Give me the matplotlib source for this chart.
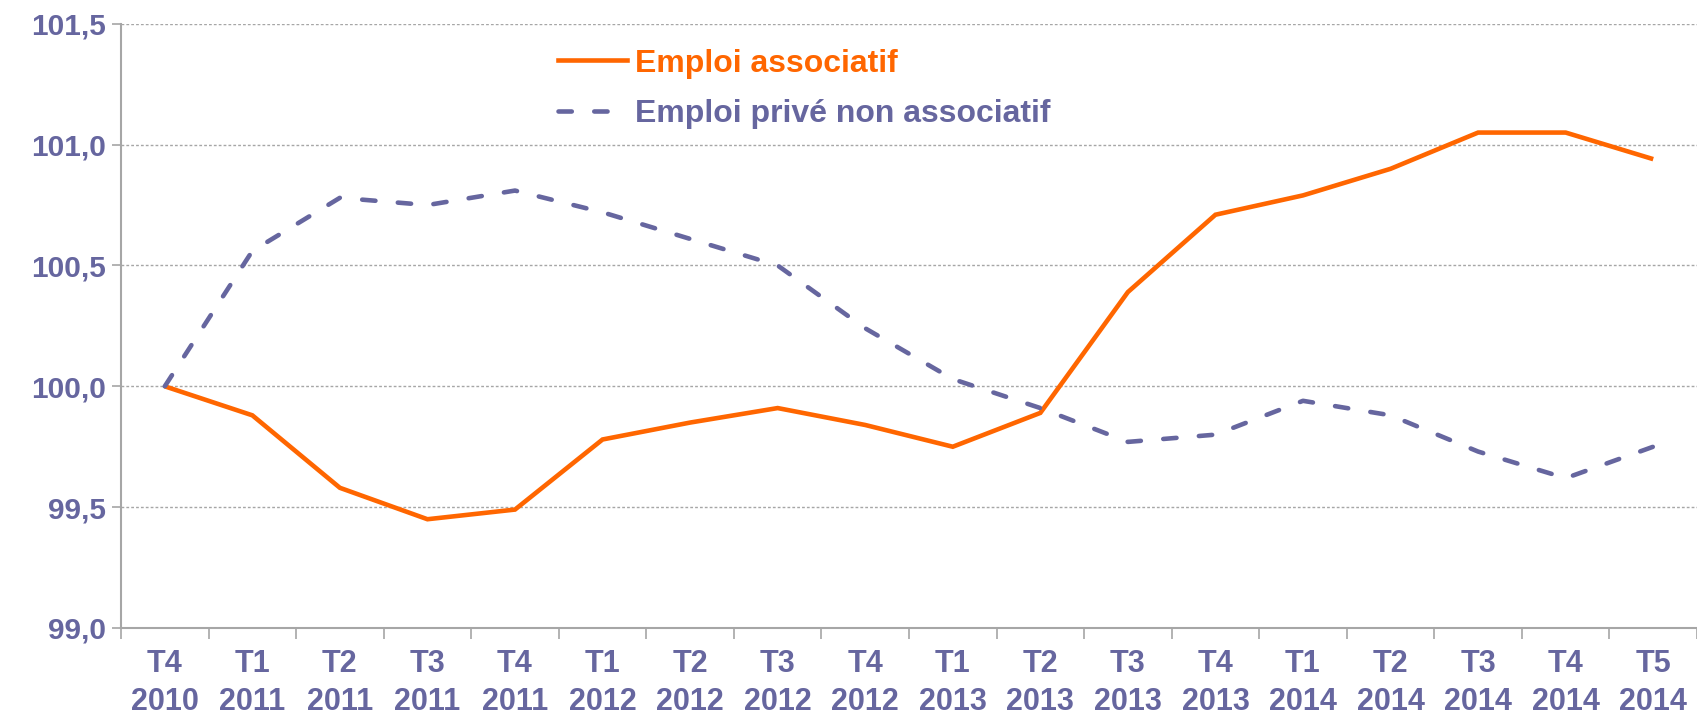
import matplotlib
matplotlib.use("Agg")
import matplotlib.pyplot as plt
from matplotlib.lines import Line2D

categories = ["T4\n2010", "T1\n2011", "T2\n2011", "T3\n2011", "T4\n2011",
              "T1\n2012", "T2\n2012", "T3\n2012", "T4\n2012",
              "T1\n2013", "T2\n2013", "T3\n2013", "T4\n2013",
              "T1\n2014", "T2\n2014", "T3\n2014", "T4\n2014", "T5\n2014"]
emploi_associatif = [100.00, 99.88, 99.58, 99.45, 99.49, 99.78, 99.85, 99.91, 99.84,
                     99.75, 99.89, 100.39, 100.71, 100.79, 100.90, 101.05, 101.05, 100.94]
emploi_prive = [100.00, 100.56, 100.78, 100.75, 100.81, 100.72, 100.61, 100.50, 100.24,
                100.03, 99.91, 99.77, 99.80, 99.94, 99.88, 99.73, 99.62, 99.75]
y_ticks = [99.0, 99.5, 100.0, 100.5, 101.0, 101.5]
series_names = ["Emploi associatif", "Emploi privé non associatif"]

ORANGE = "#FF6600"
BLUE = "#66669F"
GRID = "#A6A6A6"

plt.rcParams['font.family'] = ['Liberation Sans', 'DejaVu Sans']
plt.rcParams['font.weight'] = 'bold'

fig = plt.figure(figsize=(16.97, 7.15), dpi=100)
ax = fig.add_axes([0.0713, 0.1217, 0.9287, 0.845])

DASH = (2.9, 4.9)
x = list(range(len(categories)))
ax.plot(x, emploi_associatif, color=ORANGE, lw=3.3, solid_joinstyle='miter',
        solid_capstyle='butt', zorder=3)
ax.plot(x, emploi_prive, color=BLUE, lw=3.3, dashes=DASH,
        dash_capstyle='round', zorder=3)

ax.set_xlim(-0.5, len(categories) - 0.5)
ax.set_ylim(99.0, 101.5)
ax.set_yticks(y_ticks)
ax.set_yticklabels([f"{v:.1f}".replace(".", ",") for v in y_ticks])
ax.set_xticks([i - 0.5 for i in range(len(categories) + 1)])
ax.set_xticklabels([])
ax.set_xticks(x, minor=True)
ax.set_xticklabels(categories, minor=True)

ax.tick_params(axis='x', which='major', length=8, width=1.2, color=GRID, direction='out')
ax.tick_params(axis='x', which='minor', length=0, pad=15, labelsize=22, labelcolor=BLUE)
ax.tick_params(axis='y', length=6.5, width=1.2, color=GRID, pad=4, labelsize=21.5,
               labelcolor=BLUE)
for lbl in ax.get_xticklabels(minor=True):
    lbl.set_linespacing(1.36)
    lbl.set_fontweight('bold')
for lbl in ax.get_yticklabels():
    lbl.set_fontweight('bold')

ax.grid(axis='y', color=GRID, lw=1.0, ls=(0, (2, 1.5)))
ax.set_axisbelow(True)
for s in ['top', 'right']:
    ax.spines[s].set_visible(False)
for s in ['left', 'bottom']:
    ax.spines[s].set_color(GRID)
    ax.spines[s].set_linewidth(1.5)

handles = [Line2D([], [], color=ORANGE, lw=3.3),
           Line2D([], [], color=BLUE, lw=3.3, dashes=DASH, dash_capstyle='round')]
leg = ax.legend(handles, series_names, loc='upper left', bbox_to_anchor=(0.277, 0.959),
                frameon=False, prop={'size': 23, 'weight': 'bold'},
                handlelength=2.17, handletextpad=0.25, labelspacing=0.65,
                borderpad=0, borderaxespad=0)
for t, c in zip(leg.get_texts(), [ORANGE, BLUE]):
    t.set_color(c)

fig.savefig("out.png", dpi=100)
